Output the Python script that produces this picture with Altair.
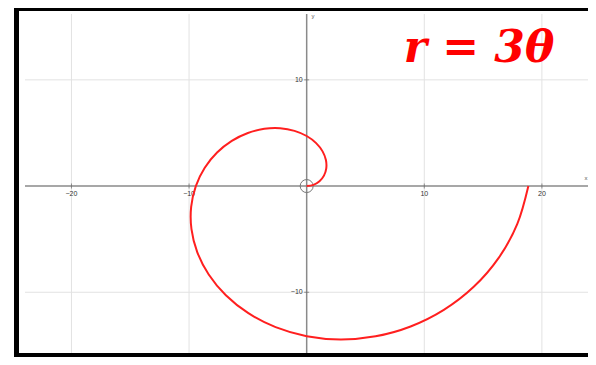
import altair as alt
import pandas as pd

# Archimedean spiral r = 3θ, θ from 0 to 2π
curve_x = [0.0, 0.578, 1.088, 1.469, 1.666, 1.636, 1.352, 0.804, 0.0, -1.034, -2.254,
           -3.600, -4.999, -6.367, -7.619, -8.666, -9.425, -9.822, -9.796, -9.306, -8.330,
           -6.872, -4.959, -2.643, 0.0, 2.873, 5.861, 8.836, 11.662, 14.203, 16.326, 17.910, 18.850]
curve_y = [0.0, 0.115, 0.451, 0.982, 1.666, 2.449, 3.265, 4.044, 4.712, 5.199, 5.442,
           5.388, 4.999, 4.255, 3.156, 1.724, 0.0, -1.954, -4.058, -6.218, -8.330,
           -10.285, -11.973, -13.288, -14.137, -14.443, -14.149, -13.224, -11.662, -9.490, -6.762, -3.563, 0.0]

x_ticks = [-20, -10, 10, 20]
y_ticks = [-10, 10]
title_text = ["r = 3θ"]

curve = pd.DataFrame({"x": curve_x, "y": curve_y, "i": list(range(len(curve_x)))})
xt = pd.DataFrame({"v": x_ticks, "zero": [0] * len(x_ticks), "label": [str(v).replace("-", "−") for v in x_ticks]})
yt = pd.DataFrame({"v": y_ticks, "zero": [0] * len(y_ticks), "label": [str(v).replace("-", "−") for v in y_ticks]})
one = pd.DataFrame({"zero": [0], "t": title_text})

xs = alt.Scale(domain=[-23.95, 23.92], nice=False, zero=False)
ys = alt.Scale(domain=[-15.72, 16.20], nice=False, zero=False)

X = lambda f: alt.X(f, type="quantitative", scale=xs, axis=None)
Y = lambda f: alt.Y(f, type="quantitative", scale=ys, axis=None)

grid_v = alt.Chart(xt).mark_rule(color="#e2e2e2", strokeWidth=1).encode(x=X("v"))
grid_h = alt.Chart(yt).mark_rule(color="#e2e2e2", strokeWidth=1).encode(y=Y("v"))

axis_x = alt.Chart(one).mark_rule(color="#8a8a8a", strokeWidth=1.5).encode(y=Y("zero"))
axis_y = alt.Chart(one).mark_rule(color="#8a8a8a", strokeWidth=1.5).encode(x=X("zero"))

tick_x = alt.Chart(xt).mark_tick(orient="vertical", color="#666", size=5, thickness=1).encode(x=X("v"), y=Y("zero"))
tick_y = alt.Chart(yt).mark_tick(orient="horizontal", color="#666", size=5, thickness=1).encode(y=Y("v"), x=X("zero"))

lab_x = alt.Chart(xt).mark_text(font="Liberation Sans", fontSize=7, color="#333", dy=8, baseline="middle", align="center").encode(
    x=X("v"), y=Y("zero"), text="label:N")
lab_y = alt.Chart(yt).mark_text(font="Liberation Sans", fontSize=7, color="#333", dx=-4, baseline="middle", align="right").encode(
    x=X("zero"), y=Y("v"), text="label:N")

name_x = alt.Chart(one).mark_text(font="Liberation Sans", fontSize=6, color="#555", text="x").encode(
    x=alt.value(561), y=alt.value(164))
name_y = alt.Chart(one).mark_text(font="Liberation Sans", fontSize=6, color="#555", text="y").encode(
    x=alt.value(288), y=alt.value(2))

origin = alt.Chart(one).mark_point(shape="circle", size=169, filled=False, color="#777", strokeWidth=1, opacity=1).encode(
    x=X("zero"), y=Y("zero"))

spiral = alt.Chart(curve).mark_line(color="#ff1f1f", strokeWidth=2, interpolate="catmull-rom").encode(
    x=X("x"), y=Y("y"), order="i:Q")

title = alt.Chart(one).mark_text(font="DejaVu Serif", fontSize=44, fontWeight="bold", fontStyle="italic",
                                 color="#ff0000", align="center", baseline="alphabetic").encode(
    x=alt.value(454), y=alt.value(48), text="t:N")

frame_left = alt.Chart(one).mark_rule(color="black", strokeWidth=5).encode(
    x=alt.value(-8.5), y=alt.value(-6), y2=alt.value(343))
frame_top = alt.Chart(one).mark_rule(color="black", strokeWidth=3).encode(
    x=alt.value(-11), x2=alt.value(563), y=alt.value(-4.5))
frame_bottom = alt.Chart(one).mark_rule(color="black", strokeWidth=4).encode(
    x=alt.value(-11), x2=alt.value(563), y=alt.value(341))

chart = alt.layer(
    grid_v, grid_h, axis_x, axis_y, tick_x, tick_y, lab_x, lab_y, name_x, name_y,
    origin, spiral, title, frame_left, frame_top, frame_bottom
).properties(
    width=563, height=339,
    autosize=alt.AutoSizeParams(type="none"),
    padding={"left": 17, "top": 6, "right": 0, "bottom": 4},
    background="white",
).configure_view(strokeWidth=0)

chart.save("out.html", embed_options={"renderer": "svg", "actions": False})
